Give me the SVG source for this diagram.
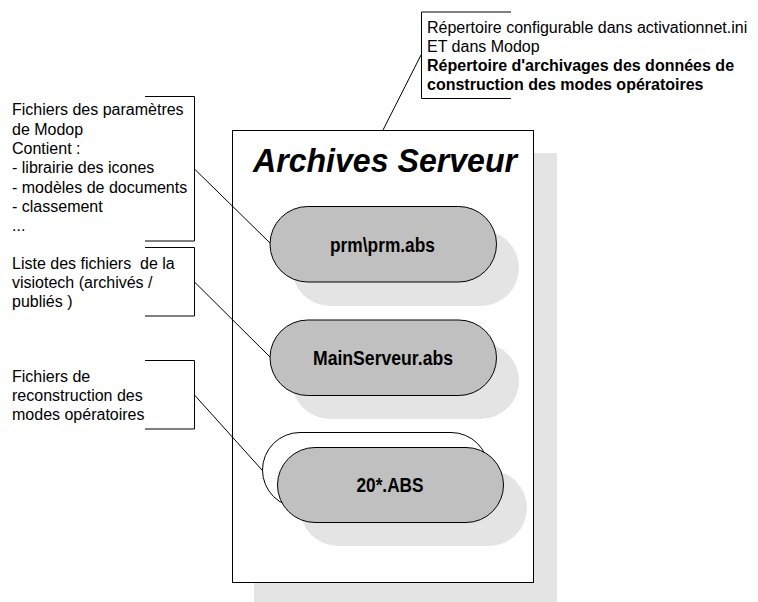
<svg xmlns="http://www.w3.org/2000/svg" width="758" height="602" viewBox="0 0 758 602">
<style>
text{font-family:"Liberation Sans",Arial,sans-serif;fill:#000}
.n{font-size:16px}
.b{font-size:16px;font-weight:bold}
.p{font-size:20px;font-weight:bold;text-anchor:middle}
.s{fill:#e4e4e4}
.pill{fill:#c0c0c0;stroke:#000;stroke-width:1}
.l{fill:none;stroke:#000;stroke-width:1}
</style>
<rect width="758" height="602" fill="#fff"/>
<g id="archives">
<rect class="s" x="254" y="153" width="303" height="449"/>
<rect x="232.500" y="130.500" width="301" height="452" fill="#fff" stroke="#000"/>
<text x="385" y="172" font-size="32.500" font-weight="bold" font-style="italic" text-anchor="middle" textLength="264" lengthAdjust="spacingAndGlyphs">Archives Serveur</text>
</g>
<g id="connectors">
<path class="l" d="M421 55L383 130M194.500 169L270 243M194.500 282L270 357M194.500 395L262 470"/>
</g>
<g id="note-top">
<path class="l" d="M511 12H421.500V98.500H511"/>
<text class="n" x="427" y="33">Répertoire configurable dans activationnet.ini</text>
<text class="n" x="427" y="52">ET dans Modop</text>
<text class="b" x="427" y="71">Répertoire d'archivages des données de</text>
<text class="b" x="427" y="90">construction des modes opératoires</text>
</g>
<g id="note-prm">
<path class="l" d="M145 96.500H194.500V241H145"/>
<text class="n" x="12" y="115">Fichiers des paramètres</text>
<text class="n" x="12" y="135">de Modop</text>
<text class="n" x="12" y="154">Contient :</text>
<text class="n" x="12" y="173">- librairie des icones</text>
<text class="n" x="12" y="193">- modèles de documents</text>
<text class="n" x="12" y="212">- classement</text>
<text class="n" x="12" y="231">...</text>
</g>
<g id="note-main">
<path class="l" d="M145 247.500H194.500V316H145"/>
<text class="n" x="12" y="269" xml:space="preserve">Liste des fichiers  de la</text>
<text class="n" x="12" y="288">visiotech (archivés /</text>
<text class="n" x="12" y="307">publiés )</text>
</g>
<g id="note-20">
<path class="l" d="M145 360.500H194.500V429H145"/>
<text class="n" x="12" y="382">Fichiers de</text>
<text class="n" x="12" y="401">reconstruction des</text>
<text class="n" x="12" y="420">modes opératoires</text>
</g>
<g id="pill-prm">
<rect class="s" x="292" y="230" width="227" height="76" rx="38"/>
<rect class="pill" x="270" y="206.500" width="226.500" height="75.500" rx="37.750"/>
<text class="p" x="382.500" y="252" textLength="105" lengthAdjust="spacingAndGlyphs">prm\prm.abs</text>
</g>
<g id="pill-main">
<rect class="s" x="292" y="343" width="227" height="76" rx="38"/>
<rect class="pill" x="270" y="320" width="226.500" height="75.500" rx="37.750"/>
<text class="p" x="383" y="365" textLength="140" lengthAdjust="spacingAndGlyphs">MainServeur.abs</text>
</g>
<g id="pill-20">
<rect class="s" x="300" y="470" width="227" height="76" rx="38"/>
<rect x="262.500" y="432.500" width="226" height="75" rx="37.500" fill="#fff" stroke="#000"/>
<rect class="pill" x="277.500" y="447.500" width="226" height="75" rx="37.500"/>
<text class="p" x="390" y="492" textLength="67" lengthAdjust="spacingAndGlyphs">20*.ABS</text>
</g>
</svg>
